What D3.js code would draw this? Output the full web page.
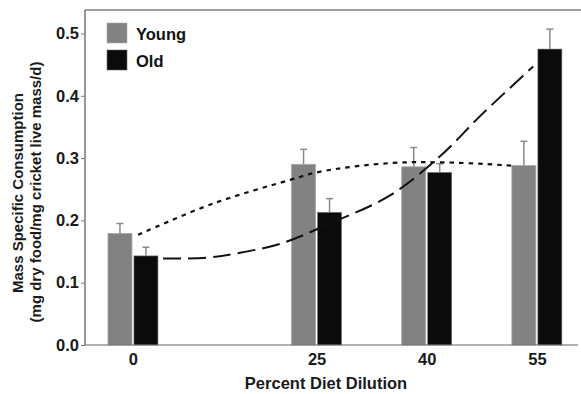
<!DOCTYPE html>
<html><head><meta charset="utf-8">
<script src="https://cdn.jsdelivr.net/npm/d3@7"></script>
<style>body{margin:0;background:#fff}svg{display:block}text{font-family:"Liberation Sans",Arial,sans-serif;font-weight:bold}</style>
</head><body><svg id="c" width="581" height="394"></svg>
<script>
const dilution = [0, 25, 40, 55];
const young = [0.179, 0.290, 0.286, 0.288];
const youngErr = [0.016, 0.024, 0.031, 0.039];
const old = [0.143, 0.213, 0.277, 0.475];
const oldErr = [0.014, 0.022, 0.014, 0.032];
const yTicks = [0, 0.1, 0.2, 0.3, 0.4, 0.5];
const youngFitX = [0.7, 10.9, 21.4, 25.4, 35, 42.7, 51.5];
const youngFitY = [0.177, 0.227, 0.265, 0.278, 0.292, 0.293, 0.288];
const oldFitX = [4.1, 10, 14.1, 20.2, 26.8, 35, 42, 47.4, 54.5];
const oldFitY = [0.139, 0.140, 0.147, 0.163, 0.195, 0.240, 0.305, 0.369, 0.447];

const svg = d3.select("#c");
const L = 85, R = 578, T = 10, B = 345;
const FS = 16.5;
const x = d3.scaleLinear().domain([-6.53, 60.6]).range([L, R]);
const y = d3.scaleLinear().domain([0, 0.5377]).range([B, T]);
const bw = 24, gap = 1;

// top frame line
svg.append("line").attr("x1", L).attr("x2", 581).attr("y1", T).attr("y2", T).attr("stroke", "#444").attr("stroke-width", 1.2);

// bars
const g = svg.append("g");
dilution.forEach((d, i) => {
  const cx = x(d);
  g.append("rect").attr("x", cx - gap - bw).attr("width", bw).attr("y", y(young[i])).attr("height", B - y(young[i]))
    .attr("fill", "#828282").attr("stroke", "#a8a8a8").attr("stroke-width", 0.8);
  g.append("rect").attr("x", cx + gap).attr("width", bw).attr("y", y(old[i])).attr("height", B - y(old[i]))
    .attr("fill", "#0b0b0b").attr("stroke", "#777").attr("stroke-width", 0.6);
  [[cx - gap - bw / 2, young[i], youngErr[i]], [cx + gap + bw / 2, old[i], oldErr[i]]].forEach(([ex, v, e]) => {
    g.append("line").attr("x1", ex).attr("x2", ex).attr("y1", y(v)).attr("y2", y(v + e)).attr("stroke", "#8a8a8a").attr("stroke-width", 1.5);
    g.append("line").attr("x1", ex - 3.5).attr("x2", ex + 3.5).attr("y1", y(v + e)).attr("y2", y(v + e)).attr("stroke", "#8a8a8a").attr("stroke-width", 1.5);
  });
});

// fit curves
const line = d3.line().x(d => x(d[0])).y(d => y(d[1])).curve(d3.curveCatmullRom.alpha(0.5));
svg.append("path").datum(youngFitX.map((v, i) => [v, youngFitY[i]])).attr("d", line)
  .attr("fill", "none").attr("stroke", "#111").attr("stroke-width", 2.2).attr("stroke-dasharray", "4.5,5");
svg.append("path").datum(oldFitX.map((v, i) => [v, oldFitY[i]])).attr("d", line)
  .attr("fill", "none").attr("stroke", "#111").attr("stroke-width", 2).attr("stroke-dasharray", "18,7");

// axes
const yAxis = d3.axisLeft(y).tickValues(yTicks).tickFormat(d3.format(".1f")).tickSize(4).tickPadding(2);
const ya = svg.append("g").attr("transform", `translate(${L},0)`).call(yAxis);
ya.select(".domain").attr("d", `M-0,${T}V${B}`).attr("stroke", "#555").attr("stroke-width", 1.2);
ya.selectAll(".tick line").attr("stroke", "#777");
ya.selectAll("text").attr("font-size", FS).attr("fill", "#1a1a1a").attr("font-family", "Liberation Sans, Arial, sans-serif").attr("font-weight", "bold");

const xAxis = d3.axisBottom(x).tickValues(dilution).tickFormat(d3.format("d")).tickSize(0).tickPadding(8);
const xa = svg.append("g").attr("transform", `translate(0,${B})`).call(xAxis);
xa.select(".domain").attr("d", `M${L},0H${R}`).attr("stroke", "#666").attr("stroke-width", 1.2);
xa.selectAll("text").attr("font-size", FS).attr("fill", "#1a1a1a").attr("font-family", "Liberation Sans, Arial, sans-serif").attr("font-weight", "bold");

// titles
svg.append("text").attr("x", 326).attr("y", 389).attr("text-anchor", "middle").attr("font-size", FS).attr("fill", "#1a1a1a").text("Percent Diet Dilution");
svg.append("text").attr("transform", "translate(23,193) rotate(-90)").attr("text-anchor", "middle").attr("font-size", 15).attr("fill", "#1a1a1a").text("Mass Specific Consumption");
svg.append("text").attr("transform", "translate(41,192) rotate(-90)").attr("text-anchor", "middle").attr("font-size", 15).attr("fill", "#1a1a1a").text("(mg dry food/mg cricket live mass/d)");

// legend
const series = ["Young", "Old"], colors = ["#828282", "#0b0b0b"];
series.forEach((s, i) => {
  svg.append("rect").attr("x", 107).attr("y", 23 + i * 27).attr("width", 20).attr("height", 20).attr("fill", colors[i]).attr("stroke", i ? "#666" : "#aaa").attr("stroke-width", 0.6);
  svg.append("text").attr("x", 136).attr("y", 39.5 + i * 27).attr("font-size", FS).attr("fill", "#111").text(s);
});
</script></body></html>
